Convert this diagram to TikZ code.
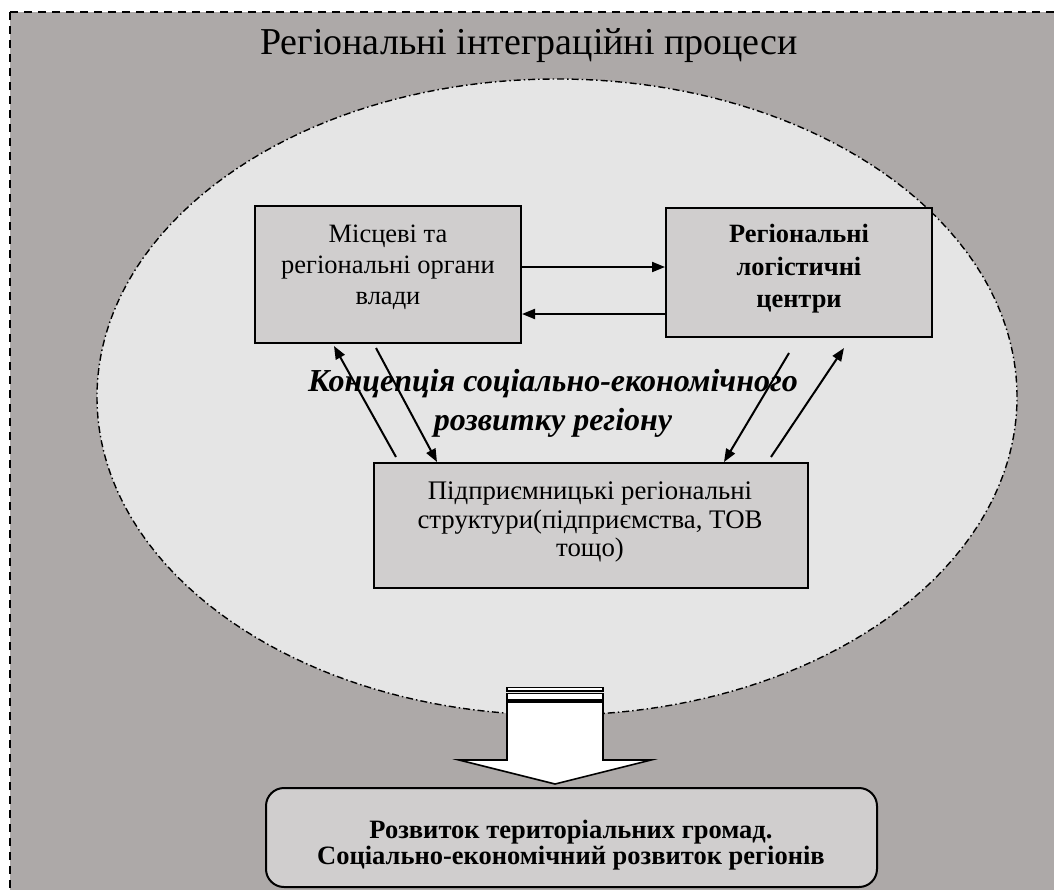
\documentclass[tikz,border=0pt]{standalone}
\usepackage{fontspec}
\setmainfont{Liberation Serif}
\usetikzlibrary{arrows.meta,shapes.geometric,calc}

\definecolor{outergray}{HTML}{ADA9A8}
\definecolor{ovalfill}{HTML}{E5E5E5}
\definecolor{boxfill}{HTML}{D0CECE}

\tikzset{
  panel/.style={draw=black, line width=2pt, fill=boxfill, inner sep=0pt},
  label/.style={align=center, inner sep=0pt, text=black},
  link/.style={line width=2pt, -{Triangle[length=13pt,width=10pt]}},
}

\begin{document}
\begin{tikzpicture}[x=1pt,y=-1pt]
\useasboundingbox (0,0) rectangle (1054,889);
\clip (0,0) rectangle (1054,889);

% outer field: regional integration processes
\fill[white] (0,0) rectangle (1054,889);
\draw[fill=outergray, line width=2pt, dash pattern=on 8pt off 6pt]
  (10,12) rectangle (1080,920);
\node[label, font=\fontsize{38}{44}\selectfont] (title) at (529,46)
  {Регіональні інтеграційні процеси};

% inner oval: regional development concept
\draw[fill=ovalfill, line width=1.4pt, dash pattern=on 7pt off 3pt on 1.5pt off 3pt]
  (557,397) ellipse [x radius=460pt, y radius=318pt];

% three actors
\node[panel, minimum width=266pt, minimum height=137pt] (b1) at (388,274.5) {};
\node[panel, minimum width=266pt, minimum height=129pt] (b2) at (799,272.5) {};
\node[panel, minimum width=434pt, minimum height=125pt] (b3) at (591,525.5) {};

\node[label, font=\fontsize{26.5}{31}\selectfont] (t1) at (388,267)
  {Місцеві та\\регіональні органи\\влади};
\node[label, font=\fontsize{26.4}{32.5}\selectfont\bfseries] (t2) at (799,269)
  {Регіональні\\логістичні\\центри};
\node[label, font=\fontsize{26.8}{28.5}\selectfont] (t3) at (590,522)
  {Підприємницькі регіональні\\структури(підприємства, ТОВ\\тощо)};

% links between the local authorities and the logistic centres
\coordinate (r1) at ($(b1.east)+(0,-7.5)$);
\coordinate (l1) at ($(b2.west)+(0,41.5)$);
\draw[link] (r1) -- (r1 -| b2.west);
\draw[link] (l1) -- (l1 -| b1.east);

% links with the enterprises
\draw[link] ([xshift=23pt,yshift=5pt]b3.north west) -- ([xshift=80pt,yshift=-2pt]b1.south west);
\draw[link] ([xshift=122pt,yshift=-4pt]b1.south west) -- ([xshift=64pt]b3.north west);
\draw[link] ([xshift=124pt,yshift=-15pt]b2.south west) -- ([xshift=351pt]b3.north west);
\draw[link] ([xshift=398pt,yshift=5pt]b3.north west) -- ([xshift=179pt,yshift=-10pt]b2.south west);

\node[label, font=\fontsize{32}{39}\selectfont\bfseries\itshape] (concept) at (553,403)
  {Концепція соціально-економічного\\розвитку регіону};

% result box
\node[panel, rounded corners=18pt, minimum width=611pt, minimum height=99pt] (res) at (571.5,837.5) {};
\node[label, font=\fontsize{26.5}{26.5}\selectfont\bfseries] (tres) at (571,845)
  {Розвиток територіальних громад.\\Соціально-економічний розвиток регіонів};

% striped block arrow towards the result
\coordinate (tip) at (555,784);
\draw[fill=white, line width=1.6pt]
  (507,702) -- (603,702) -- (603,760) -- (651,760) -- (tip) -- (459,760) -- (507,760) -- cycle;
\draw[fill=white, line width=1.3pt] (507,687.5) rectangle (603,691);
\draw[fill=white, line width=1.3pt] (507,693.5) rectangle (603,700);
\end{tikzpicture}
\end{document}
